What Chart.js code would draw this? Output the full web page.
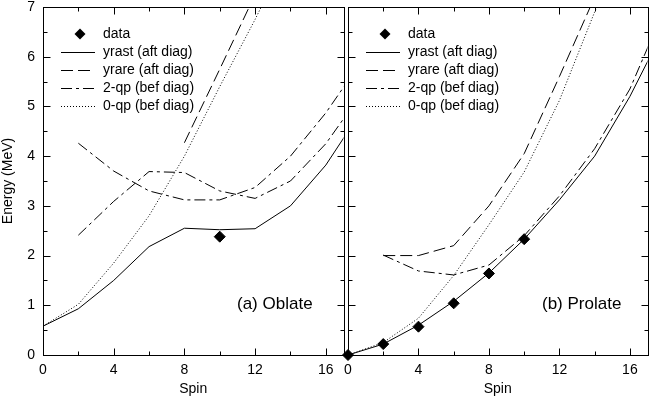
<!DOCTYPE html>
<html>
<head>
<meta charset="utf-8">
<script src="https://cdn.jsdelivr.net/npm/chart.js@4.4.0/dist/chart.umd.min.js"></script>
<style>
  body { margin: 0; background: #fff; }
  #wrap { position: relative; width: 654px; height: 399px; }
  canvas { position: absolute; top: 0; }
  #left { left: 0; }
  #right { left: 338px; }
</style>
</head>
<body>
<div id="wrap">
  <canvas id="left" width="350" height="399"></canvas>
  <canvas id="right" width="316" height="399"></canvas>
</div>
<script>
const FONT = '"Liberation Sans", Arial, sans-serif';

const spins = [0, 2, 4, 6, 8, 10, 12, 14, 16, 18];

// (a) Oblate
const oblYrast = [0.58, 0.93, 1.50, 2.18, 2.55, 2.52, 2.54, 3.00, 3.82, 4.90];
const oblYrare = [null, null, null, null, 4.27, 5.75, 7.25, 8.80, null, null];
const obl2qpA  = [null, 4.26, 3.70, 3.30, 3.12, 3.12, 3.37, 4.00, 4.87, 5.90];
const obl2qpB  = [null, 2.41, 3.09, 3.69, 3.67, 3.30, 3.15, 3.50, 4.25, 5.25];
const obl0qp   = [0.58, 1.02, 1.85, 2.80, 4.00, 5.40, 6.75, 8.20, null, null];
const oblData  = [null, null, null, null, null, 2.38, null, null, null, null];

// (b) Prolate
const proYrast = [0.00, 0.22, 0.60, 1.08, 1.65, 2.33, 3.12, 4.00, 5.20, 6.60];
const proYrare = [null, 2.00, 2.00, 2.20, 3.00, 4.05, 5.60, 7.20, null, null];
const pro2qp   = [null, 2.01, 1.69, 1.61, 1.81, 2.40, 3.20, 4.15, 5.35, 7.00];
const pro0qp   = [0.00, 0.25, 0.74, 1.60, 2.62, 3.68, 5.12, 6.90, 8.70, null];
const proData  = [0.00, 0.22, 0.57, 1.04, 1.64, 2.33, null, null, null, null];

const xLabels = [0, 4, 8, 12, 16];
const xMinor  = [2, 6, 10, 14];
const yLabels = [0, 1, 2, 3, 4, 5, 6, 7];
const yMinor  = [0.5, 1.5, 2.5, 3.5, 4.5, 5.5, 6.5];

const DASH_YRARE = [12, 5];
const DASH_2QP = [11, 4, 3, 4];
const DASH_0QP = [1, 2];

function pts(ys) {
    return spins.map((s, i) => ({ x: s, y: ys[i] })).filter(p => p.y !== null);
}

function lineSet(label, ys, dash) {
    return {
        label, data: pts(ys), showLine: true, borderColor: '#000', borderWidth: 1,
        borderDash: dash, pointRadius: 0, tension: 0, fill: false
    };
}

function dataSet(ys) {
    return {
        label: 'data', data: pts(ys), showLine: false,
        pointStyle: 'rectRot', pointRadius: 5.5, pointBorderWidth: 1,
        pointBackgroundColor: '#000', pointBorderColor: '#000', clip: false
    };
}

// frame, inward ticks, legend and panel label
const deco = {
    id: 'deco',
    afterDraw(chart, args, opts) {
        const { ctx, chartArea: a, scales: { x, y } } = chart;
        const L = Math.round(a.left) + 0.5, R = Math.round(a.right) + 0.5;
        const T = Math.round(a.top) + 0.5, B = Math.round(a.bottom) + 0.5;
        ctx.save();
        ctx.strokeStyle = '#000';
        ctx.lineWidth = 1;
        ctx.setLineDash([]);
        ctx.strokeRect(L, T, R - L, B - T);
        ctx.beginPath();
        const xt = (v, len) => {
            const px = Math.round(x.getPixelForValue(v)) + 0.5;
            ctx.moveTo(px, B); ctx.lineTo(px, B - len);
            ctx.moveTo(px, T); ctx.lineTo(px, T + len);
        };
        const yt = (v, len) => {
            const py = Math.round(y.getPixelForValue(v)) + 0.5;
            ctx.moveTo(L, py); ctx.lineTo(L + len, py);
            ctx.moveTo(R, py); ctx.lineTo(R - len, py);
        };
        xLabels.forEach(v => xt(v, 7));
        xMinor.forEach(v => xt(v, 4));
        yLabels.forEach(v => yt(v, 7));
        yMinor.forEach(v => yt(v, 4));
        ctx.stroke();

        // legend
        const seen = new Set();
        let row = 0;
        ctx.font = '14px ' + FONT;
        ctx.fillStyle = '#000';
        ctx.textBaseline = 'middle';
        chart.data.datasets.forEach(ds => {
            if (seen.has(ds.label)) return;
            seen.add(ds.label);
            const ry = a.top + 27 + 18 * row;
            if (ds.showLine === false) {
                const cx = a.left + 37, r = 5.5;
                ctx.beginPath();
                ctx.moveTo(cx - r, ry); ctx.lineTo(cx, ry - r);
                ctx.lineTo(cx + r, ry); ctx.lineTo(cx, ry + r);
                ctx.closePath();
                ctx.fill();
            } else {
                ctx.beginPath();
                ctx.setLineDash(ds.borderDash || []);
                ctx.moveTo(a.left + 18, ry + 0.5);
                ctx.lineTo(a.left + 52, ry + 0.5);
                ctx.stroke();
                ctx.setLineDash([]);
            }
            ctx.fillText(ds.label, a.left + 60, ry);
            row++;
        });

        ctx.font = '17px ' + FONT;
        ctx.fillText(opts.label, a.left + 194, a.top + 297);
        ctx.restore();
    }
};

function makeChart(id, datasets, panelLabel, showY) {
    return new Chart(document.getElementById(id), {
        type: 'scatter',
        data: { datasets },
        plugins: [deco],
        options: {
            responsive: false,
            animation: false,
            events: [],
            layout: { padding: showY ? { top: 7, right: 2, left: 0, bottom: 0 } : { top: 7, right: 1, left: 10, bottom: 0 } },
            plugins: {
                legend: { display: false },
                tooltip: { enabled: false },
                deco: { label: panelLabel }
            },
            scales: {
                x: {
                    type: 'linear', min: 0, max: 17,
                    grid: { display: false, drawTicks: false, tickLength: 0 },
                    border: { display: false },
                    afterBuildTicks: s => { s.ticks = xLabels.map(v => ({ value: v })); },
                    afterFit: s => { s.height = 44; s.paddingLeft = 0; s.paddingRight = 0; },
                    ticks: { padding: 7, color: '#000', font: { family: FONT, size: 14 } },
                    title: { display: true, text: 'Spin', color: '#000', padding: { top: 0, bottom: 1 },
                             font: { family: FONT, size: 14 } }
                },
                y: {
                    type: 'linear', min: 0, max: 7, display: showY,
                    grid: { display: false, drawTicks: false, tickLength: 0 },
                    border: { display: false },
                    afterBuildTicks: s => { s.ticks = yLabels.map(v => ({ value: v })); },
                    afterFit: s => { if (showY) { s.width = 43; } s.paddingTop = 0; s.paddingBottom = 0; },
                    ticks: { padding: 8, color: '#000', font: { family: FONT, size: 14 } },
                    title: { display: true, text: 'Energy (MeV)', color: '#000', padding: 0,
                             font: { family: FONT, size: 14 } }
                }
            }
        }
    });
}

makeChart('left', [
    dataSet(oblData),
    lineSet('yrast (aft diag)', oblYrast, []),
    lineSet('yrare (aft diag)', oblYrare, DASH_YRARE),
    lineSet('2-qp (bef diag)', obl2qpA, DASH_2QP),
    lineSet('2-qp (bef diag)', obl2qpB, DASH_2QP),
    lineSet('0-qp (bef diag)', obl0qp, DASH_0QP)
], '(a) Oblate', true);

makeChart('right', [
    dataSet(proData),
    lineSet('yrast (aft diag)', proYrast, []),
    lineSet('yrare (aft diag)', proYrare, DASH_YRARE),
    lineSet('2-qp (bef diag)', pro2qp, DASH_2QP),
    lineSet('0-qp (bef diag)', pro0qp, DASH_0QP)
], '(b) Prolate', false);
</script>
</body>
</html>
